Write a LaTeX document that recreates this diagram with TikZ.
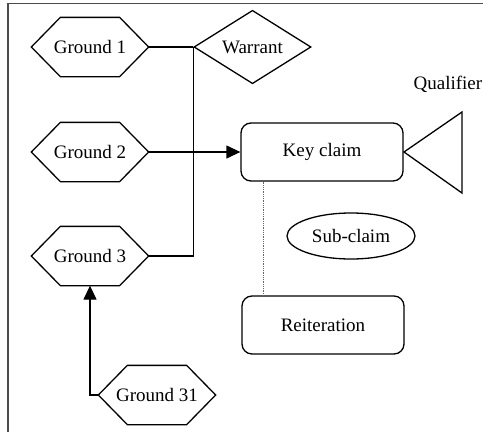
\documentclass[tikz,border=0pt]{standalone}
\usepackage{fontspec}
\setmainfont{Liberation Serif}
\usetikzlibrary{shapes.geometric,arrows.meta}

\tikzset{
  base/.style={font=\fontsize{19}{22}\selectfont, line width=1.3pt, inner sep=0pt},
  hexa/.style={base, rectangle, minimum width=116pt, minimum height=58pt},
  roundbox/.style={base, draw, rectangle, rounded corners=10pt,
                   minimum width=162pt, minimum height=58pt},
  warrantbox/.style={base, draw, diamond, minimum width=117pt, minimum height=58pt},
  subbox/.style={base, draw, ellipse, minimum width=128pt, minimum height=46pt},
  link/.style={line width=1.3pt},
  arrowlink/.style={link, -{Triangle[length=14pt,width=13pt]}},
  frameline/.style={line width=1.2pt, black!70}
}

% hexagonal outline around a named node (pointed at west and east)
\newcommand\hexoutline[1]{%
  \draw[link, line join=miter] (#1.west) -- ([xshift=29pt]#1.north west)
    -- ([xshift=-29pt]#1.north east) -- (#1.east)
    -- ([xshift=-29pt]#1.south east) -- ([xshift=29pt]#1.south west) -- cycle;}

\begin{document}
\begin{tikzpicture}[x=1pt, y=-1pt]
  \useasboundingbox (0,0) rectangle (483,432);

  % frame edges
  \draw[frameline] (8,432) -- (8,3.5) -- (483,3.5);

  % grounds
  \node[hexa] (g1) at (90,47) {Ground 1};
  \node[hexa] (g2) at (90,152) {Ground 2};
  \node[hexa] (g3) at (90,256) {Ground 3};
  \node[hexa] (g31) at (157,395) {Ground 31};
  \hexoutline{g1}
  \hexoutline{g2}
  \hexoutline{g3}
  \hexoutline{g31}

  % warrant
  \node[warrantbox] (w) at (252.5,47) {Warrant};

  % claims
  \node[roundbox] (key) at (322,152) {Key claim};
  \node[roundbox] (rei) at (323,325) {Reiteration};
  \node[subbox] (sub) at (351,236) {Sub-claim};

  % qualifier
  \node[base, anchor=west] (qtext) at (413,84) {Qualifier};
  \coordinate (qapex) at (404,152);
  \coordinate (qtop) at (462,112);
  \coordinate (qbot) at (462,193);
  \draw[link] (qapex) -- (qtop) -- (qbot) -- cycle;

  % connectors
  \draw[link] (g1.east) -- (w.west);
  \draw[link] (g3.east) -| (w.west);
  \draw[arrowlink] (g2.east) -- (key.west);
  \draw[arrowlink] (g31.west) -| (g3.south);
  \draw[densely dotted, line width=0.8pt, black!60]
    ([xshift=23pt]key.south west) -- ([xshift=22pt]rei.north west);
\end{tikzpicture}
\end{document}
